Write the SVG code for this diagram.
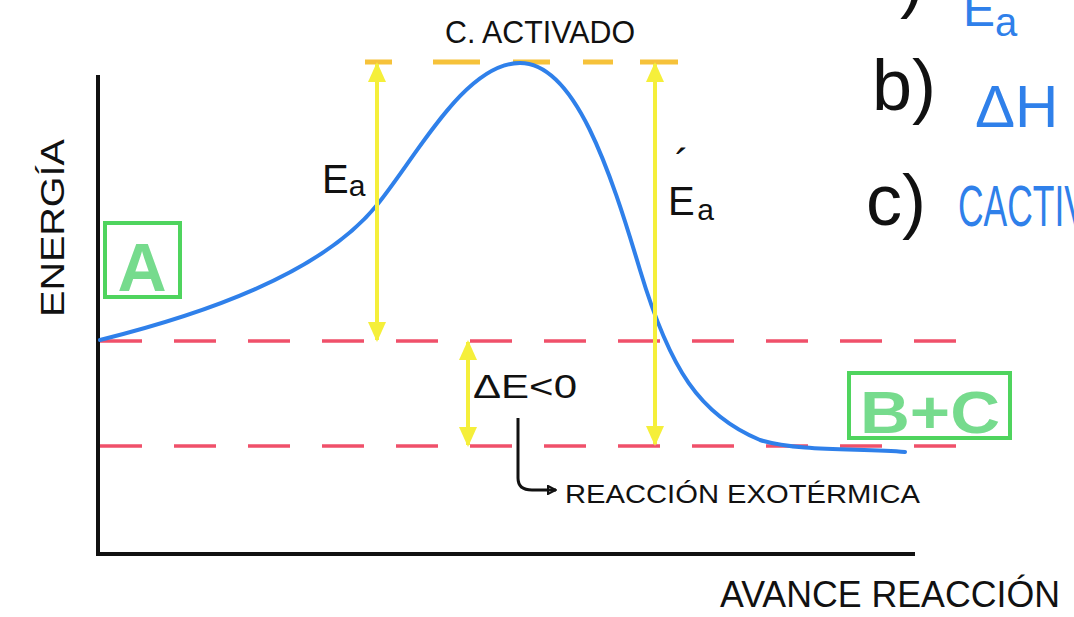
<svg xmlns="http://www.w3.org/2000/svg" width="1074" height="617" viewBox="0 0 1074 617">
<style>
.hand{font-family:"Liberation Sans","DejaVu Sans",sans-serif;fill:#111}
.blue{font-family:"Liberation Sans","DejaVu Sans",sans-serif;fill:#2f80ea}
.axis{stroke:#111;stroke-width:4;fill:none}
.red{stroke:#f0506a;stroke-width:3.5;stroke-dasharray:42 32;fill:none}
.orange{stroke:#f6c23a;stroke-width:5;fill:none}
.yel{stroke:#f5ef3a;stroke-width:4;fill:none}
.box{stroke:#4fd45e;stroke-width:4;fill:none}
.gtxt{font-family:"Liberation Sans","DejaVu Sans",sans-serif;fill:#5fd57a;opacity:.85;font-weight:bold}
</style>
<defs>
<marker id="yh" viewBox="0 0 20 20" refX="18" refY="10" markerWidth="20" markerHeight="20" markerUnits="userSpaceOnUse" orient="auto-start-reverse">
<path d="M0,1 L20,10 L0,19 Z" fill="#f5ef3a"/>
</marker>
<marker id="bh" viewBox="0 0 10 10" refX="9" refY="5" markerWidth="10" markerHeight="10" markerUnits="userSpaceOnUse" orient="auto">
<path d="M1,1 L9,5 L1,9 Z" fill="none" stroke="#111" stroke-width="2"/>
</marker>
</defs>
<rect width="1074" height="617" fill="#fff"/>

<g id="axes">
<path class="axis" d="M98,75 L98,554 L915,554"/>
</g>

<g id="levels">
<line class="red" x1="100" y1="341" x2="960" y2="341"/>
<line class="red" x1="100" y1="446" x2="985" y2="446"/>
<path class="orange" d="M365,62 H392 M433,62 H480 M513,62 H550 M583,62 H613 M640,62 H678"/>
</g>

<g id="curve">
<path d="M100,340 C200,315 320,275 377,205 C417,156 465,63 520,63 C575,63 610,170 640,270 C670,370 700,415 760,440 C800,452 860,448 905,452" fill="none" stroke="#2f80ea" stroke-width="4" stroke-linecap="round"/>
</g>

<g id="connectors">
<line class="yel" x1="377" y1="64" x2="377" y2="340" marker-start="url(#yh)" marker-end="url(#yh)"/>
<line class="yel" x1="655" y1="64" x2="655" y2="444" marker-start="url(#yh)" marker-end="url(#yh)"/>
<line class="yel" x1="468" y1="342" x2="468" y2="445" marker-start="url(#yh)" marker-end="url(#yh)"/>
<path d="M518,418 L518,478 Q518,490 532,490 L556,490" fill="none" stroke="#111" stroke-width="3" marker-end="url(#bh)"/>
</g>

<g id="nodeA">
<rect class="box" x="105" y="223" width="75" height="74"/>
<text class="gtxt" x="142" y="291" font-size="68" text-anchor="middle">A</text>
</g>

<g id="nodeBC">
<rect class="box" x="849" y="373" width="161" height="65"/>
<text class="gtxt" x="930" y="433" font-size="60" text-anchor="middle" textLength="140" lengthAdjust="spacingAndGlyphs">B+C</text>
</g>

<g id="labels">
<text class="hand" x="445" y="43" font-size="32" textLength="190" lengthAdjust="spacingAndGlyphs">C. ACTIVADO</text>
<text class="hand" x="322" y="193" font-size="40">E<tspan font-size="30" dy="3">a</tspan></text>
<text class="hand" x="668" y="215" font-size="40">E<tspan font-size="44" dx="-20" dy="-35">´</tspan><tspan font-size="30" dx="8" dy="40">a</tspan></text>
<text class="hand" transform="translate(64,228) rotate(-90)" font-size="34" text-anchor="middle" textLength="178" lengthAdjust="spacingAndGlyphs">ENERGÍA</text>
<text class="hand" x="473" y="398" font-size="34" textLength="104" lengthAdjust="spacingAndGlyphs">ΔE&lt;0</text>
<text class="hand" x="565" y="503" font-size="26" textLength="355" lengthAdjust="spacingAndGlyphs">REACCIÓN  EXOTÉRMICA</text>
<text class="hand" x="720" y="607" font-size="36" textLength="340" lengthAdjust="spacingAndGlyphs">AVANCE   REACCIÓN</text>
</g>

<g id="questions">
<text class="hand" x="900" y="4" font-size="72">)</text>
<text class="blue" x="963" y="26" font-size="48">E<tspan font-size="40" dy="10">a</tspan></text>
<text class="hand" x="872" y="110" font-size="72">b)</text>
<text class="blue" x="975" y="127" font-size="60">ΔH</text>
<text class="hand" x="866" y="225" font-size="72">c)</text>
<text class="blue" x="958" y="226" font-size="58" textLength="130" lengthAdjust="spacingAndGlyphs">CACTIV</text>
</g>
</svg>
